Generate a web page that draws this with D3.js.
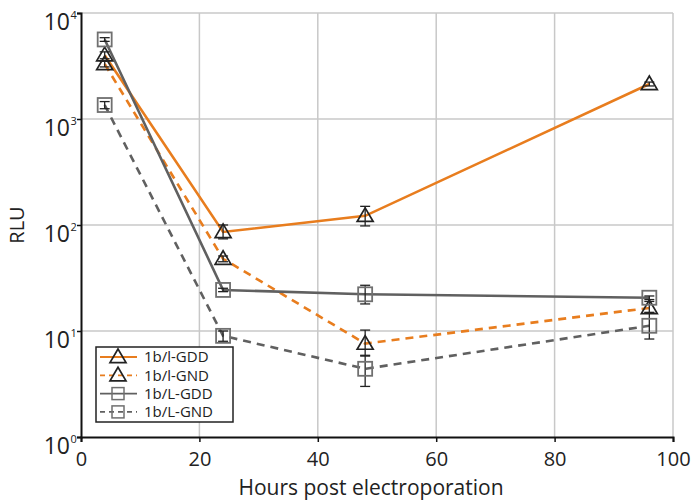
<!DOCTYPE html>
<html>
<head>
<meta charset="utf-8">
<script src="https://cdn.jsdelivr.net/npm/d3@7"></script>
<style>
  body { margin: 0; background: #fff; }
  text { font-family: "Open Sans", sans-serif; fill: #222; }
</style>
</head>
<body>
<div id="chart"></div>
<script>
// hours post electroporation
var hours = [4, 24, 48, 96];

// RLU values per construct [value, low, high]
var lGDD = [[4000, 3700, 4300], [86, 74, 100], [122, 98, 150], [2140, 2050, 2230]];
var lGND = [[3300, 3100, 3500], [48, 45, 51], [7.6, 5.8, 10.2], [16.5, 15, 19]];
var LGDD = [[5630, 5400, 5850], [24.4, 23.5, 25.3], [22.2, 18, 27], [20.6, 19.8, 21.4]];
var LGND = [[1355, 1250, 1460], [9.0, 8.0, 10.0], [4.4, 3.0, 5.9], [11.2, 8.4, 14.8]];

var seriesNames = ["1b/l-GDD", "1b/l-GND", "1b/L-GDD", "1b/L-GND"];
var xTicks = [0, 20, 40, 60, 80, 100];
var yTicks = [1, 10, 100, 1000, 10000];

var orange = "#e87d1e", gray = "#606060";
var series = [
    { name: seriesNames[0], data: lGDD, color: orange, dash: null, marker: "tri" },
    { name: seriesNames[1], data: lGND, color: orange, dash: "8,6", marker: "tri" },
    { name: seriesNames[2], data: LGDD, color: gray, dash: null, marker: "sq" },
    { name: seriesNames[3], data: LGND, color: gray, dash: "8,6", marker: "sq" }
];

var margin = { top: 13, right: 21, bottom: 64, left: 81 },
    width = 694 - margin.left - margin.right,
    height = 501 - margin.top - margin.bottom;

var svg = d3.select("#chart").append("svg")
    .attr("width", 694)
    .attr("height", 501);
var g = svg.append("g").attr("transform", "translate(" + margin.left + "," + margin.top + ")");

var x = d3.scaleLinear().domain([0, 100]).range([0, width]);
var y = d3.scaleLog().domain([1, 10000]).range([height, 0]);

// grid
g.selectAll(".vgrid").data(xTicks.slice(1)).enter().append("line")
    .attr("x1", d => x(d)).attr("x2", d => x(d))
    .attr("y1", 0).attr("y2", height)
    .attr("stroke", "#c8c8c8").attr("stroke-width", 1.5);
g.selectAll(".hgrid").data(yTicks.slice(1)).enter().append("line")
    .attr("x1", 0).attr("x2", width)
    .attr("y1", d => y(d)).attr("y2", d => y(d))
    .attr("stroke", "#c8c8c8").attr("stroke-width", 1.5);

// axes
var xAxis = g.append("g").attr("transform", "translate(0," + height + ")")
    .call(d3.axisBottom(x).tickValues(xTicks).tickSize(5).tickFormat(d3.format("d")));
xAxis.select(".domain").attr("stroke", "#111").attr("stroke-width", 2);
xAxis.selectAll("line").attr("stroke", "#111").attr("stroke-width", 1.5);
xAxis.selectAll("text").style("font-size", "20px").attr("y", 15).attr("dy", "0.71em").attr("fill", "#222");

var yAxis = g.append("g")
    .call(d3.axisLeft(y).tickValues(yTicks).tickSize(4).tickFormat(""));
yAxis.select(".domain").attr("stroke", "#111").attr("stroke-width", 2);
yAxis.selectAll("line").attr("stroke", "#111").attr("stroke-width", 1.5);
yAxis.selectAll(".tick").append("text")
    .attr("x", -11).attr("y", 16)
    .attr("text-anchor", "end")
    .style("font-size", "23px")
    .text("10");
yAxis.selectAll(".tick").append("text")
    .attr("x", -10.5).attr("y", 5)
    .attr("text-anchor", "start")
    .style("font-size", "11px")
    .text(d => Math.round(Math.log10(d)));

// axis titles
svg.append("text")
    .attr("x", margin.left + width / 2 - 6).attr("y", 495)
    .attr("text-anchor", "middle")
    .style("font-size", "21px")
    .text("Hours post electroporation");
svg.append("text")
    .attr("transform", "translate(24," + (margin.top + y(100)) + ") rotate(-90)")
    .attr("text-anchor", "middle")
    .style("font-size", "20px")
    .text("RLU");

var line = d3.line()
    .x((d, i) => x(hours[i]))
    .y(d => y(d[0]));

function drawMarker(sel, type, color, cx, cy) {
    if (type === "tri") {
        var s = 8;
        sel.append("path")
            .attr("d", "M" + cx + "," + (cy - s) + "L" + (cx + s) + "," + (cy + s * 0.7) + "L" + (cx - s) + "," + (cy + s * 0.7) + "Z")
            .attr("fill", "none").attr("stroke", "#222").attr("stroke-width", 1.7);
    } else {
        var h = 7;
        sel.append("rect")
            .attr("x", cx - h).attr("y", cy - h).attr("width", 2 * h).attr("height", 2 * h)
            .attr("fill", "none").attr("stroke", "#707070").attr("stroke-width", 1.8);
    }
}

// lines
series.forEach(function (s) {
    g.append("path")
        .datum(s.data)
        .attr("d", line)
        .attr("fill", "none")
        .attr("stroke", s.color)
        .attr("stroke-width", 2.6)
        .attr("stroke-dasharray", s.dash);
});

// error bars and markers
series.forEach(function (s) {
    var grp = g.append("g");
    s.data.forEach(function (d, i) {
        var cx = x(hours[i]);
        grp.append("line").attr("x1", cx).attr("x2", cx)
            .attr("y1", y(d[1])).attr("y2", y(d[2]))
            .attr("stroke", "#222").attr("stroke-width", 1.3);
        [d[1], d[2]].forEach(function (v) {
            grp.append("line").attr("x1", cx - 5).attr("x2", cx + 5)
                .attr("y1", y(v)).attr("y2", y(v))
                .attr("stroke", "#222").attr("stroke-width", 1.3);
        });
        drawMarker(grp, s.marker, s.color, cx, y(d[0]));
    });
});

// legend
var leg = svg.append("g").attr("transform", "translate(96,347)");
leg.append("rect").attr("width", 137).attr("height", 75)
    .attr("fill", "#fff").attr("stroke", "#222").attr("stroke-width", 1.5);
series.forEach(function (s, i) {
    var ly = 10 + i * 18.3;
    var row = leg.append("g");
    row.append("line").attr("x1", 4).attr("x2", 41).attr("y1", ly).attr("y2", ly)
        .attr("stroke", s.color).attr("stroke-width", 1.8)
        .attr("stroke-dasharray", s.dash ? "5,4" : null);
    if (s.marker === "tri") {
        drawMarker(row, "tri", s.color, 22, ly);
    } else {
        row.append("rect").attr("x", 16).attr("y", ly - 6).attr("width", 12).attr("height", 12)
            .attr("fill", "none").attr("stroke", "#707070").attr("stroke-width", 1.5);
    }
    row.append("text").attr("x", 48).attr("y", ly).attr("dy", "0.36em")
        .style("font-size", "15px").text(s.name);
});
</script>
</body>
</html>
